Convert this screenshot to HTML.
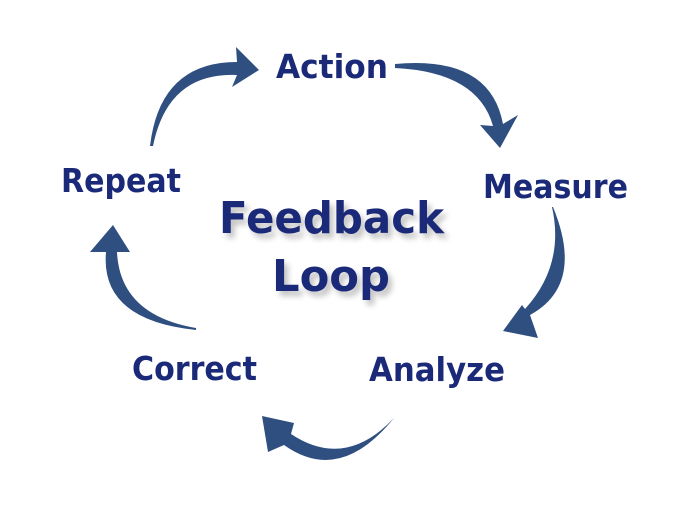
<!DOCTYPE html>
<html><head><style>
body{margin:0;background:#fff;}
svg{display:block}
.l{font-family:"DejaVu Sans","Liberation Sans",sans-serif;font-weight:bold;fill:#1b2a78;font-size:33px}
.c{font-family:"DejaVu Sans","Liberation Sans",sans-serif;font-weight:bold;fill:#1b2a78;font-size:44px}
</style></head><body>
<svg width="678" height="516" viewBox="0 0 678 516">
<defs><filter id="s" x="-20%" y="-20%" width="140%" height="140%"><feGaussianBlur stdDeviation="3"/></filter></defs>
<g fill="#2f4f80">
<path d="M150 146 Q160 62 237 62 L236 47 L259 70 L232 87 L237 75 Q168 72 153 146 Z"/>
<path d="M395 64 Q490 55 503 124 L518 115 L500 148 L480 125 L493 126 Q478 72 395 68 Z"/>
<path d="M553 207 Q585 285 530 315 L538 338 L503 331 L522 305 L525 309 Q565 265 552 207 Z"/>
<path d="M394 418 Q340 485 284 445 L268 452 L262 416 L294 423 L291 434 Q345 470 394 418 Z"/>
<path d="M196 330 Q100 320 106 252 L90 252 L113 225 L130 252 L117 252 Q120 315 196 328 Z"/>
</g>
<text class="l" x="276" y="78" textLength="112" lengthAdjust="spacingAndGlyphs">Action</text>
<text class="l" x="483" y="198" textLength="145" lengthAdjust="spacingAndGlyphs">Measure</text>
<text class="l" x="369" y="381" textLength="136" lengthAdjust="spacingAndGlyphs">Analyze</text>
<text class="l" x="132" y="380" textLength="125" lengthAdjust="spacingAndGlyphs">Correct</text>
<text class="l" x="61" y="192" textLength="120" lengthAdjust="spacingAndGlyphs">Repeat</text>
<g filter="url(#s)" opacity="0.35" transform="translate(4,5)">
<text class="c" x="219" y="233" textLength="225" lengthAdjust="spacingAndGlyphs" style="fill:#555">Feedback</text>
<text class="c" x="272" y="291" textLength="118" lengthAdjust="spacingAndGlyphs" style="fill:#555">Loop</text>
</g>
<text class="c" x="219" y="233" textLength="225" lengthAdjust="spacingAndGlyphs">Feedback</text>
<text class="c" x="272" y="291" textLength="118" lengthAdjust="spacingAndGlyphs">Loop</text>
</svg>
</body></html>
